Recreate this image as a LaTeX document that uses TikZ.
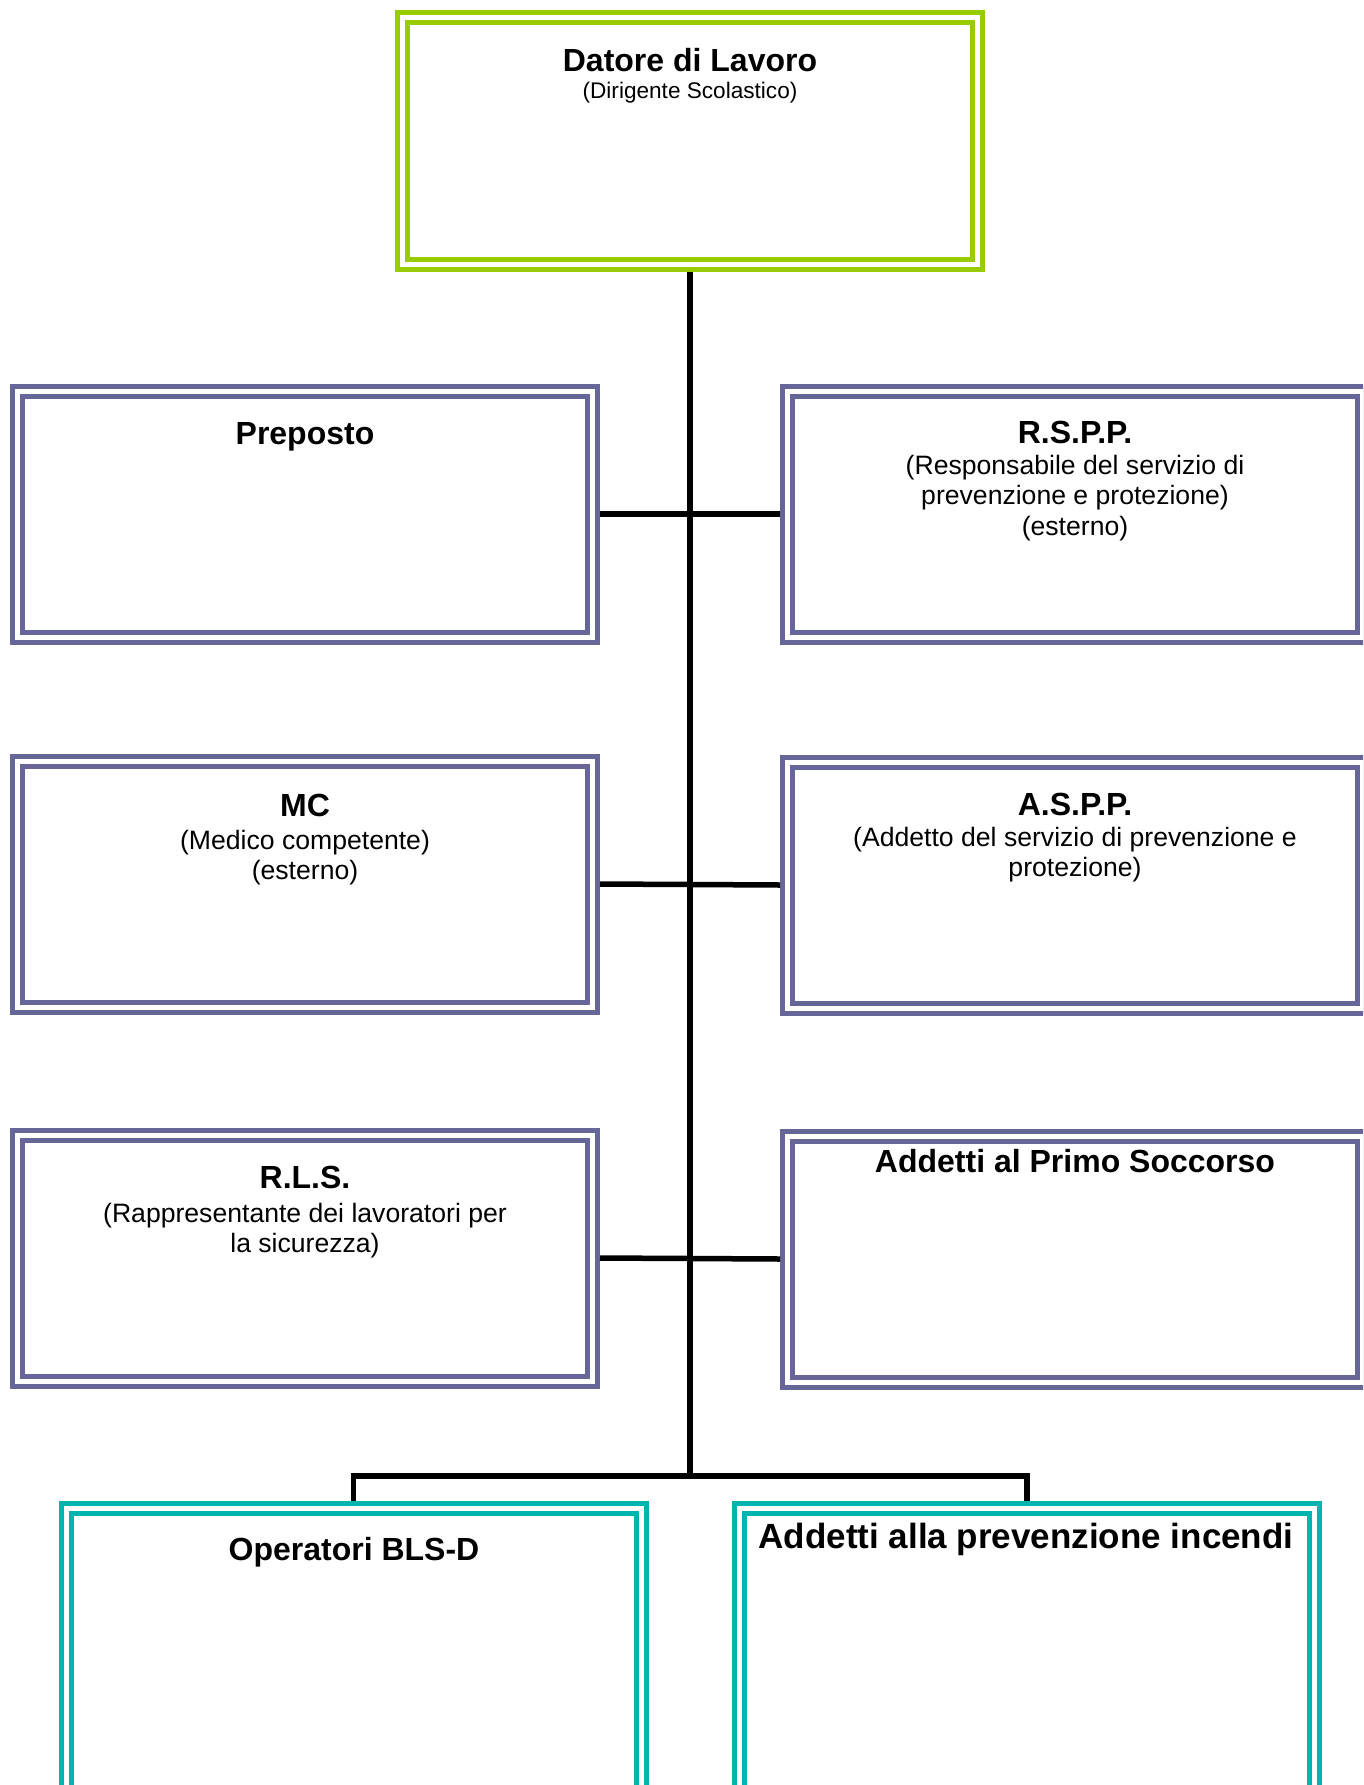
\documentclass[tikz,border=0pt]{standalone}
\usepackage{fontspec}
\setmainfont{Liberation Sans}

\definecolor{lime}{HTML}{99CC00}
\definecolor{slate}{HTML}{666699}
\definecolor{teal}{HTML}{00B5B0}

\tikzset{
    box/.style={rectangle, double=white, line width=5pt, double distance=5pt,
        minimum width=575pt, minimum height=246pt, inner sep=0pt, outer sep=7.5pt},
    headbox/.style={box, draw=lime},
    staffbox/.style={box, draw=slate},
    teambox/.style={box, draw=teal, minimum height=300pt},
    title/.style={anchor=base, inner sep=0pt, font=\fontsize{32}{36}\selectfont\bfseries},
    sub/.style={anchor=base, inner sep=0pt, align=center, font=\fontsize{26.6}{30.7}\selectfont},
    link/.style={line width=5.5pt}
}

\begin{document}
\begin{tikzpicture}[x=1pt, y=-1pt]
    \useasboundingbox (0,0) rectangle (1363,1785);
    \clip (0,0) rectangle (1363,1785);

    % boxes
    \node[headbox] (datore) at (690,141) {};
    \node[staffbox] (prep) at (305,514) {};
    \node[staffbox] (rspp) at (1075,514) {};
    \node[staffbox] (mc) at (305,884) {};
    \node[staffbox] (aspp) at (1075,885) {};
    \node[staffbox] (rls) at (305,1258) {};
    \node[staffbox] (soccorso) at (1075,1259) {};
    \node[teambox] (bls) at (353.5,1658.5) {};
    \node[teambox] (incendi) at (1027,1658.5) {};

    % texts (base of a multi-line text is its last line)
    \node[title] (datoreT) at (690,71) {Datore di Lavoro};
    \node[sub, font=\fontsize{22.6}{26}\selectfont] (datoreS) at (690,98) {(Dirigente Scolastico)};

    \node[title] (prepT) at (305,444.5) {Preposto};

    \node[title] (rsppT) at (1075,443.5) {R.S.P.P.};
    \node[sub] (rsppS) at (1075,535.4) {(Responsabile del servizio di\\prevenzione e protezione)\\(esterno)};

    \node[title] (mcT) at (305,816.5) {MC};
    \node[sub] (mcS) at (305,879.7) {(Medico competente)\\(esterno)};

    \node[title] (asppT) at (1075,815.5) {A.S.P.P.};
    \node[sub] (asppS) at (1075,876.7) {(Addetto del servizio di prevenzione e\\protezione)};

    \node[title] (rlsT) at (305,1188.5) {R.L.S.};
    \node[sub] (rlsS) at (305,1252.7) {(Rappresentante dei lavoratori per\\la sicurezza)};

    \node[title] (soccorsoT) at (1075,1172.5) {Addetti al Primo Soccorso};

    \node[title] (blsT) at (354,1560.5) {Operatori BLS-D};
    \node[title, font=\fontsize{35}{40}\selectfont\bfseries] (incendiT) at (1026,1548.5) {Addetti alla prevenzione incendi};

    % connectors
    \coordinate (split) at (690,1476);
    \draw[link] (datore.south) -- (split);
    \draw[link] (prep.east) -- (rspp.west);
    \draw[link] (mc.east) -- (aspp.west);
    \draw[link] (rls.east) -- (soccorso.west);
    \draw[link] (split) -| (bls.north);
    \draw[link] (split) -| (incendi.north);
\end{tikzpicture}
\end{document}
